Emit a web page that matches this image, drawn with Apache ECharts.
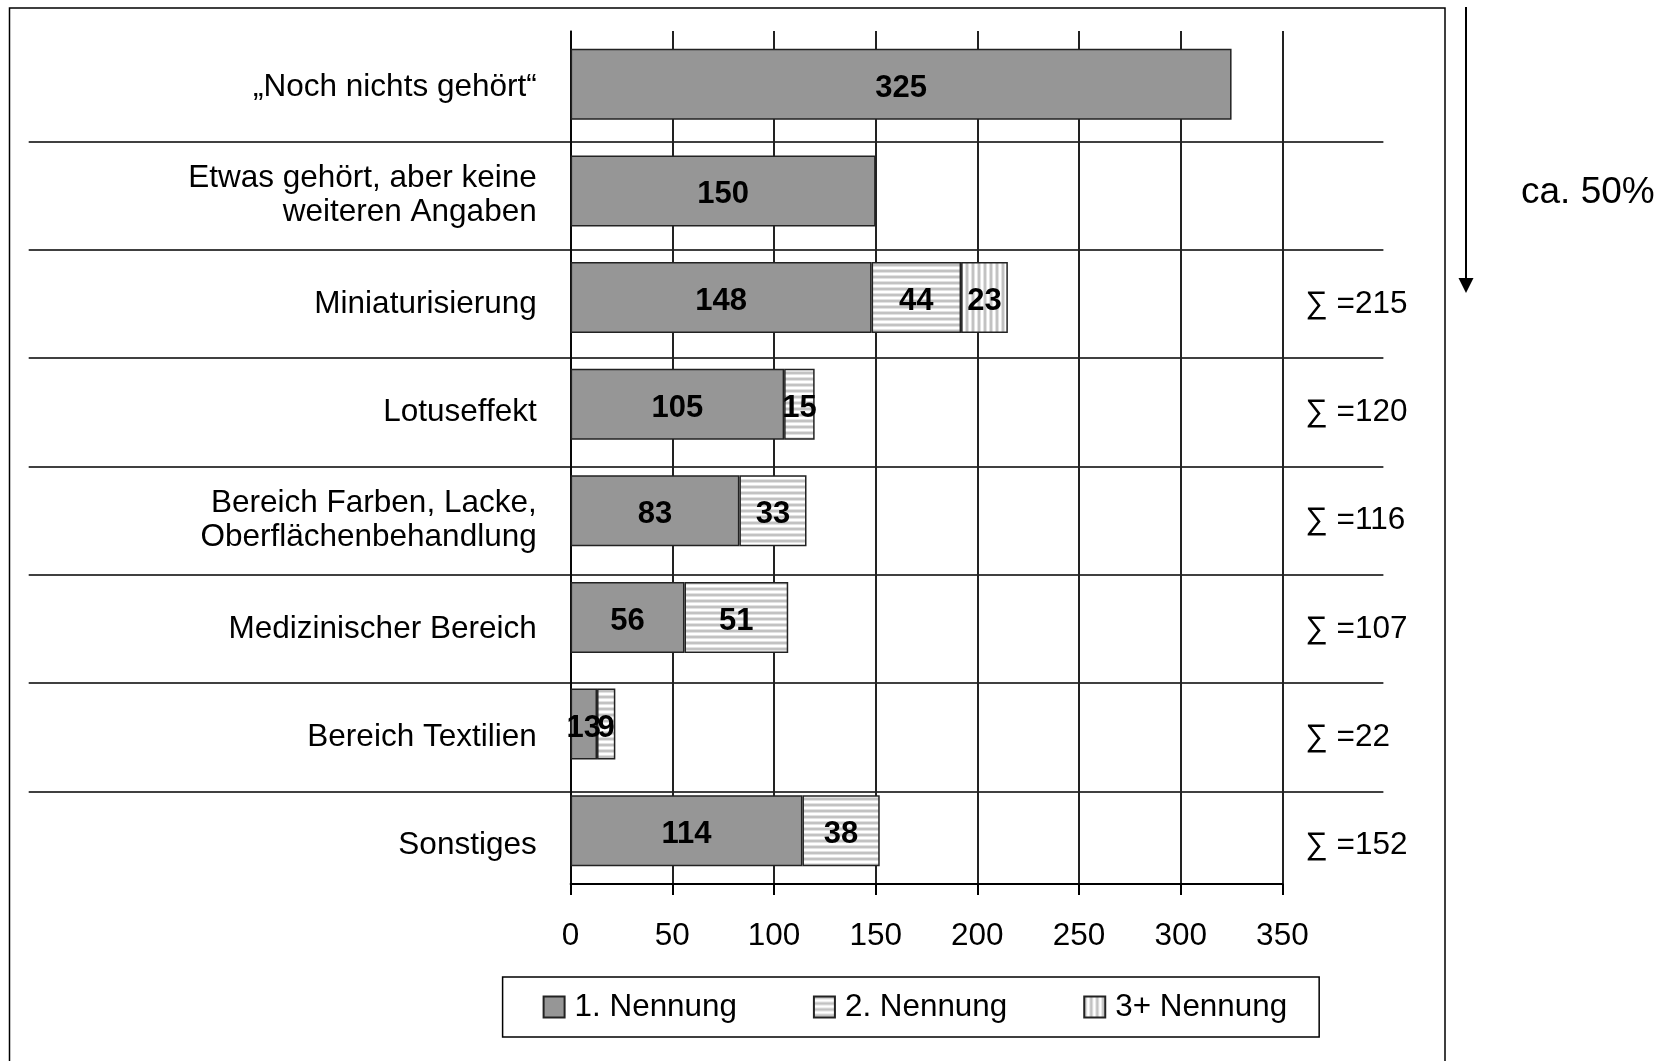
<!DOCTYPE html>
<html>
<head>
<meta charset="utf-8">
<script src="https://cdn.jsdelivr.net/npm/echarts@6/dist/echarts.min.js"></script>
<style>
html,body{margin:0;padding:0;background:#fff;}
#chart{width:1666px;height:1061px;}
</style>
</head>
<body>
<div id="chart"></div>
<script>
const categories = [
  '„Noch nichts gehört“',
  'Etwas gehört, aber keine\nweiteren Angaben',
  'Miniaturisierung',
  'Lotuseffekt',
  'Bereich Farben, Lacke,\nOberflächenbehandlung',
  'Medizinischer Bereich',
  'Bereich Textilien',
  'Sonstiges'
];
const seriesNames = ['1. Nennung', '2. Nennung', '3+ Nennung'];
const nennung1 = [325, 150, 148, 105, 83, 56, 13, 114];
const nennung2 = [null, null, 44, 15, 33, 51, 9, 38];
const nennung3 = [null, null, 23, null, null, null, null, null];
const xMin = 0, xMax = 350, xStep = 50;
const sideNote = 'ca. 50%';

const FONT = "'Liberation Sans', Arial, sans-serif";

function stripePattern(vertical) {
  const c = document.createElement('canvas');
  const p = 6;
  c.width = p; c.height = p;
  const ctx = c.getContext('2d');
  ctx.fillStyle = '#ffffff';
  ctx.fillRect(0, 0, p, p);
  const cols = ['#c2c2c2', '#c2c2c2', '#e2e2e2', '#ffffff', '#ffffff', '#e2e2e2'];
  for (let i = 0; i < p; i++) {
    ctx.fillStyle = cols[i];
    if (vertical) ctx.fillRect(i, 0, 1, p); else ctx.fillRect(0, i, p, 1);
  }
  return { image: c, repeat: 'repeat' };
}

const sumLabels = categories.map((_, i) => {
  const parts = [nennung1[i], nennung2[i], nennung3[i]].filter(v => v != null);
  if (parts.length < 2) return '';
  return '∑ =' + parts.reduce((a, b) => a + b, 0);
});

const chart = echarts.init(document.getElementById('chart'), null, { renderer: 'canvas' });

const labelStyle = {
  show: true, position: 'inside', color: '#000', fontWeight: 'bold',
  fontSize: 31, fontFamily: FONT, offset: [0, 4]
};
const barBase = {
  type: 'bar', stack: 'total', xAxisIndex: 0, yAxisIndex: 0,
  barWidth: 71, label: labelStyle
};

chart.setOption({
  animation: false,
  backgroundColor: '#ffffff',
  textStyle: { fontFamily: FONT },
  grid: [
    { left: 570.6, width: 711.8, top: 31, height: 853, containLabel: false },
    { left: 28.7, width: 1354.7, top: 33.2, height: 866.6, containLabel: false }
  ],
  xAxis: [
    {
      gridIndex: 0, type: 'value', min: xMin, max: xMax, interval: xStep,
      axisLine: { show: true, lineStyle: { color: '#000', width: 2 } },
      axisTick: { show: true, length: 11, lineStyle: { color: '#000', width: 2 } },
      splitLine: { show: true, lineStyle: { color: '#222', width: 2 } },
      axisLabel: { color: '#000', fontSize: 31.5, fontFamily: FONT, margin: 36 }
    },
    { gridIndex: 1, type: 'value', show: false, min: 0, max: 1 }
  ],
  yAxis: [
    {
      gridIndex: 0, type: 'category', inverse: true, data: categories,
      axisLine: { show: true, lineStyle: { color: '#000', width: 1.5 } },
      axisTick: { show: false }, axisLabel: { show: false }, splitLine: { show: false }
    },
    {
      gridIndex: 1, type: 'category', inverse: true, data: categories, position: 'left',
      axisLine: { show: false }, axisTick: { show: false },
      splitLine: { show: true, showMinLine: false, showMaxLine: false, lineStyle: { color: '#000', width: 1.5 } },
      axisLabel: { color: '#000', fontSize: 31.5, fontFamily: FONT, margin: -508, lineHeight: 34, align: 'right' }
    },
    {
      gridIndex: 1, type: 'category', inverse: true, data: categories, position: 'right',
      axisLine: { show: false }, axisTick: { show: false }, splitLine: { show: false },
      axisLabel: {
        color: '#000', fontSize: 31.5, fontFamily: FONT, margin: -78, align: 'left',
        formatter: (v, i) => sumLabels[i]
      }
    }
  ],
  legend: {
    data: seriesNames,
    left: 502.6, top: 977,
    orient: 'horizontal',
    padding: [14, 32, 14, 40],
    borderColor: '#000', borderWidth: 1.5,
    itemWidth: 21, itemHeight: 21, itemGap: 76,
    icon: 'rect',
    textStyle: { color: '#000', fontSize: 31.4, fontFamily: FONT, lineHeight: 32, padding: [0, 0, 0, 5] }
  },
  series: [
    Object.assign({}, barBase, {
      name: seriesNames[0], data: nennung1,
      itemStyle: { color: '#969696', borderColor: '#222', borderWidth: 1.5 }
    }),
    Object.assign({}, barBase, {
      name: seriesNames[1], data: nennung2,
      itemStyle: { color: stripePattern(false), borderColor: '#222', borderWidth: 1.5 }
    }),
    Object.assign({}, barBase, {
      name: seriesNames[2], data: nennung3,
      itemStyle: { color: stripePattern(true), borderColor: '#222', borderWidth: 1.5 }
    })
  ],
  graphic: [
    {
      type: 'rect', silent: true, z: 0,
      shape: { x: 9.5, y: 8, width: 1435.5, height: 1080 },
      style: { fill: null, stroke: '#000', lineWidth: 1.5 }
    },
    {
      type: 'line', silent: true,
      shape: { x1: 1466, y1: 7, x2: 1466, y2: 280 },
      style: { stroke: '#000', lineWidth: 2 }
    },
    {
      type: 'polygon', silent: true,
      shape: { points: [[1458.5, 278], [1473.5, 278], [1466, 293]] },
      style: { fill: '#000' }
    },
    {
      type: 'text', silent: true,
      x: 1521, y: 193,
      style: { text: sideNote, fill: '#000', font: '37px ' + FONT, textVerticalAlign: 'middle', textAlign: 'left' }
    }
  ]
});
</script>
</body>
</html>
